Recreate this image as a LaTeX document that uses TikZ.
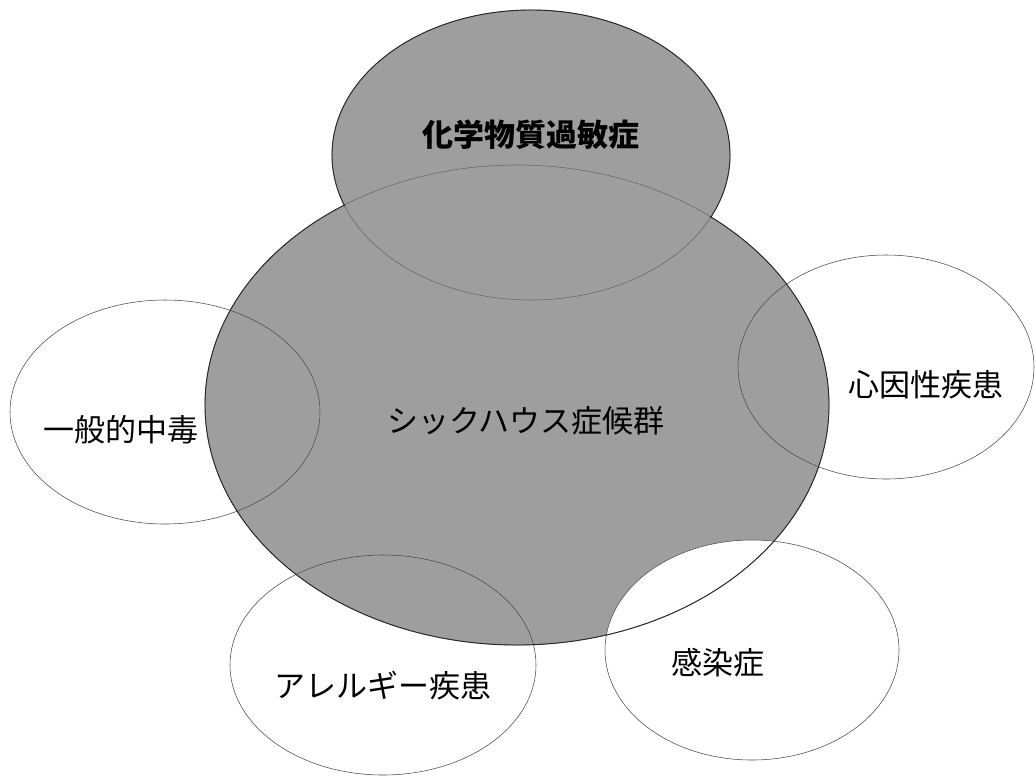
\documentclass[tikz,border=0pt]{standalone}
\usepackage{fontspec}
\newfontfamily\cjk{Noto Sans CJK JP}
\begin{document}
\begin{tikzpicture}[x=1pt,y=-1pt,
  shade/.style={fill=black!38},
  side/.style={draw=black!70,line width=0.55pt},
  inner/.style={draw=black!60,line width=0.55pt},
  main/.style={draw=black!85,line width=0.9pt},
  lbl/.style={font=\cjk\fontsize{31}{36}\selectfont,text=black,inner sep=0pt}]
\useasboundingbox (0,0) rectangle (1035,779);
% fills
\fill[white] (0,0) rectangle (1035,779);
\fill[shade] (517,405) ellipse [x radius=312,y radius=240];
\fill[shade] (531,155) ellipse [x radius=199,y radius=145];
\fill[white] (752,650) ellipse [x radius=147,y radius=110];
% outlines
\draw[side] (165,412) ellipse [x radius=155,y radius=112];
\draw[side] (886,367) ellipse [x radius=148,y radius=112];
\draw[side] (383,665) ellipse [x radius=153,y radius=110];
\draw[side] (752,650) ellipse [x radius=147,y radius=110];
% faint inner parts of the two shaded ellipses
\draw[inner] (517,405) ellipse [x radius=312,y radius=240];
\draw[inner] (531,155) ellipse [x radius=199,y radius=145];
% strong outer contours
\begin{scope}
  \clip (0,0) rectangle (1035,779) (531,155) ellipse [x radius=199,y radius=145];
\end{scope}
\begin{scope}[even odd rule]
  \clip (0,0) rectangle (1035,779) (531,155) ellipse [x radius=198,y radius=144];
  \draw[main] (517,405) ellipse [x radius=312,y radius=240];
\end{scope}
\begin{scope}[even odd rule]
  \clip (0,0) rectangle (1035,779) (517,405) ellipse [x radius=311,y radius=239];
  \draw[main] (531,155) ellipse [x radius=199,y radius=145];
\end{scope}
% labels
\node[lbl,font=\cjk\bfseries\fontsize{31}{36}\selectfont] (kagaku) at (531,135) {化学物質過敏症};
\node[lbl] (sick) at (526,421) {シックハウス症候群};
\node[lbl] (ippan) at (121,430) {一般的中毒};
\node[lbl] (shin) at (926,385) {心因性疾患};
\node[lbl] (allergy) at (383,686) {アレルギー疾患};
\node[lbl] (kansen) at (718,663) {感染症};
\end{tikzpicture}
\end{document}
